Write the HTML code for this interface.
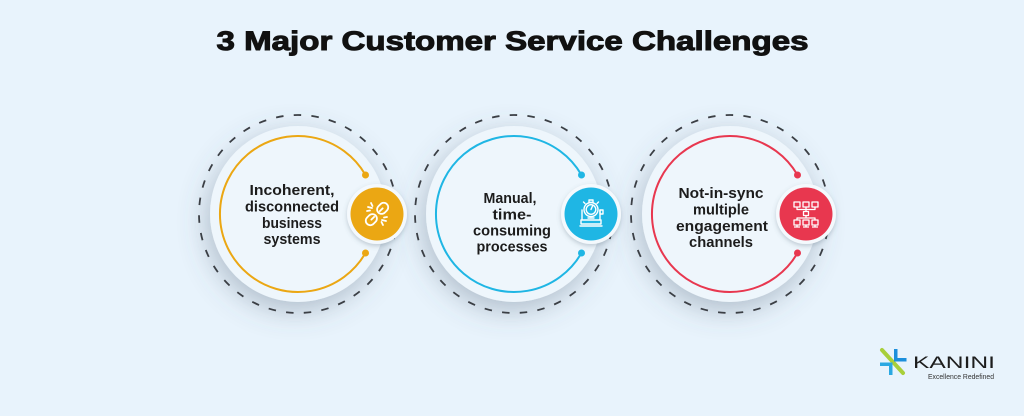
<!DOCTYPE html>
<html>
<head>
<meta charset="utf-8">
<style>
  html,body{margin:0;padding:0;background:#E8F3FC;}
  body{width:1024px;height:416px;overflow:hidden;}
  svg{display:block;}
  .t{font-family:"Liberation Sans",Arial,sans-serif;font-weight:bold;font-size:14.5px;fill:#1c1c1c;text-anchor:middle;}
</style>
</head>
<body>
<svg width="1024" height="416" viewBox="0 0 1024 416" xmlns="http://www.w3.org/2000/svg">
  <defs>
    <filter id="sh" x="-60%" y="-60%" width="220%" height="220%">
      <feDropShadow dx="-3" dy="8" stdDeviation="14" flood-color="#4f6478" flood-opacity="0.38"/>
    </filter>
    <filter id="sh2" x="-60%" y="-60%" width="220%" height="220%">
      <feDropShadow dx="0" dy="2" stdDeviation="2.5" flood-color="#4f6478" flood-opacity="0.3"/>
    </filter>
  </defs>
  <rect width="1024" height="416" fill="#E8F3FC"/>

  <!-- Title -->
  <text x="512.5" y="50" text-anchor="middle" textLength="592" lengthAdjust="spacingAndGlyphs"
        font-family="Liberation Sans, Arial, sans-serif" font-weight="bold" font-size="27"
        fill="#111" stroke="#111" stroke-width="1">3 Major Customer Service Challenges</text>

  <!-- Inner disks with shadows -->
  <circle cx="298" cy="214" r="88" fill="#EEF6FC" filter="url(#sh)"/>
  <circle cx="514" cy="214" r="88" fill="#EEF6FC" filter="url(#sh)"/>
  <circle cx="730" cy="214" r="88" fill="#EEF6FC" filter="url(#sh)"/>

  <!-- Dashed outer rings -->
  <g fill="none" stroke="#3b3f45" stroke-width="1.8" stroke-dasharray="7.5 10.27">
    <circle cx="298" cy="214" r="99"/>
    <circle cx="514" cy="214" r="99"/>
    <circle cx="730" cy="214" r="99"/>
  </g>

  <!-- Colored arcs -->
  <path d="M365.5 175 A78 78 0 1 0 365.5 253" fill="none" stroke="#EBA713" stroke-width="2"/>
  <circle cx="365.5" cy="175" r="3.5" fill="#EBA713"/>
  <circle cx="365.5" cy="253" r="3.5" fill="#EBA713"/>

  <path d="M581.5 175 A78 78 0 1 0 581.5 253" fill="none" stroke="#1FB6E4" stroke-width="2"/>
  <circle cx="581.5" cy="175" r="3.5" fill="#1FB6E4"/>
  <circle cx="581.5" cy="253" r="3.5" fill="#1FB6E4"/>

  <path d="M797.5 175 A78 78 0 1 0 797.5 253" fill="none" stroke="#E8374F" stroke-width="2"/>
  <circle cx="797.5" cy="175" r="3.5" fill="#E8374F"/>
  <circle cx="797.5" cy="253" r="3.5" fill="#E8374F"/>

  <!-- Text -->
  <text class="t" x="292" y="195" textLength="85" lengthAdjust="spacingAndGlyphs">Incoherent,</text>
  <text class="t" x="292" y="211.5" textLength="94" lengthAdjust="spacingAndGlyphs">disconnected</text>
  <text class="t" x="292" y="228" textLength="60" lengthAdjust="spacingAndGlyphs">business</text>
  <text class="t" x="292" y="244" textLength="57" lengthAdjust="spacingAndGlyphs">systems</text>

  <text class="t" x="510" y="203" textLength="53" lengthAdjust="spacingAndGlyphs">Manual,</text>
  <text class="t" x="512" y="219.5" textLength="39" lengthAdjust="spacingAndGlyphs">time-</text>
  <text class="t" x="512" y="235.5" textLength="78" lengthAdjust="spacingAndGlyphs">consuming</text>
  <text class="t" x="512" y="251.5" textLength="71" lengthAdjust="spacingAndGlyphs">processes</text>

  <text class="t" x="721" y="198" textLength="85" lengthAdjust="spacingAndGlyphs">Not-in-sync</text>
  <text class="t" x="721" y="214.5" textLength="56" lengthAdjust="spacingAndGlyphs">multiple</text>
  <text class="t" x="722" y="231" textLength="92" lengthAdjust="spacingAndGlyphs">engagement</text>
  <text class="t" x="721" y="247" textLength="64" lengthAdjust="spacingAndGlyphs">channels</text>

  <!-- Icon circles -->
  <g filter="url(#sh2)">
    <circle cx="377" cy="214" r="30" fill="#F4F9FD"/>
    <circle cx="591" cy="214" r="30" fill="#F4F9FD"/>
    <circle cx="806" cy="214" r="30" fill="#F4F9FD"/>
  </g>
  <circle cx="377" cy="214" r="26.5" fill="#EBA713"/>
  <circle cx="591" cy="214" r="26.5" fill="#1FB6E4"/>
  <circle cx="806" cy="214" r="26.5" fill="#E8374F"/>

  <!-- Icon 1: broken chain -->
  <g transform="translate(377 214)" fill="none" stroke="#fff" stroke-width="1.8" stroke-linecap="round">
    <g transform="rotate(45)">
      <rect x="-4.5" y="-14" width="9" height="12" rx="4.5"/>
      <rect x="-4.5" y="2" width="9" height="12" rx="4.5"/>
      <line x1="0" y1="-8" x2="0" y2="-4"/>
      <line x1="0" y1="4" x2="0" y2="8"/>
    </g>
    <line x1="-9" y1="-7" x2="-5" y2="-6"/>
    <line x1="-6" y1="-11" x2="-4.5" y2="-8"/>
    <line x1="-10" y1="-3" x2="-7" y2="-3.5"/>
    <line x1="9" y1="7" x2="5" y2="6"/>
    <line x1="6" y1="11" x2="4.5" y2="8"/>
    <line x1="10" y1="3" x2="7" y2="3.5"/>
  </g>

  <!-- Icon 2: stopwatch machine -->
  <g transform="translate(591 214)" fill="none" stroke="#fff" stroke-width="1.4" stroke-linecap="round" stroke-linejoin="round">
    <rect x="-2" y="-14" width="4" height="2.5"/>
    <circle cx="0" cy="-4.5" r="7"/>
    <circle cx="0" cy="-4.5" r="4.8"/>
    <line x1="0" y1="-4.5" x2="1.5" y2="-8"/>
    <line x1="-6" y1="-10.5" x2="-7.5" y2="-12"/>
    <line x1="6" y1="-10.5" x2="7.5" y2="-12"/>
    <path d="M-9 -4 V6 H9 V-4"/>
    <rect x="9" y="-4" width="3" height="4"/>
    <line x1="-3" y1="4" x2="3" y2="4"/>
    <path d="M-10 6 V10 H10 V6"/>
    <line x1="-11" y1="12" x2="11" y2="12"/>
  </g>

  <!-- Icon 3: network -->
  <g transform="translate(806 214)" fill="none" stroke="#fff" stroke-width="1.3" stroke-linejoin="round">
    <rect x="-12" y="-12" width="6" height="5"/>
    <rect x="-3" y="-12" width="6" height="5"/>
    <rect x="6" y="-12" width="6" height="5"/>
    <rect x="-2.5" y="-2.5" width="5" height="4"/>
    <rect x="-12" y="6" width="6" height="5"/>
    <rect x="-3" y="6" width="6" height="5"/>
    <rect x="6" y="6" width="6" height="5"/>
    <path d="M-9 -7 V-4.5 H9 V-7 M0 -7 V-2.5 M0 1.5 V4 M-9 6 V4 H9 V6 M-9 11 V13 M0 11 V13 M9 11 V13 M-12 13 H-6 M-3 13 H3 M6 13 H12"/>
  </g>

  <!-- KANINI logo -->
  <g>
    <line x1="882" y1="350" x2="903" y2="373" stroke="#A8CF3A" stroke-width="4" stroke-linecap="round"/>
    <path d="M894 349 h3.5 v9 h9 v3.5 h-12.5 z" fill="#1C8FDC"/>
    <path d="M880 362.5 h12.5 v12.5 h-3.5 v-9 h-9 z" fill="#2AA8E2"/>
    <text x="954" y="368" text-anchor="middle" textLength="82" lengthAdjust="spacingAndGlyphs"
          font-family="Liberation Sans, Arial, sans-serif" font-size="16.5" fill="#1d1d1d">KANINI</text>
    <text x="961" y="379" text-anchor="middle" textLength="66" lengthAdjust="spacingAndGlyphs"
          font-family="Liberation Sans, Arial, sans-serif" font-size="7.5" fill="#333">Excellence Redefined</text>
  </g>
</svg>
</body>
</html>
